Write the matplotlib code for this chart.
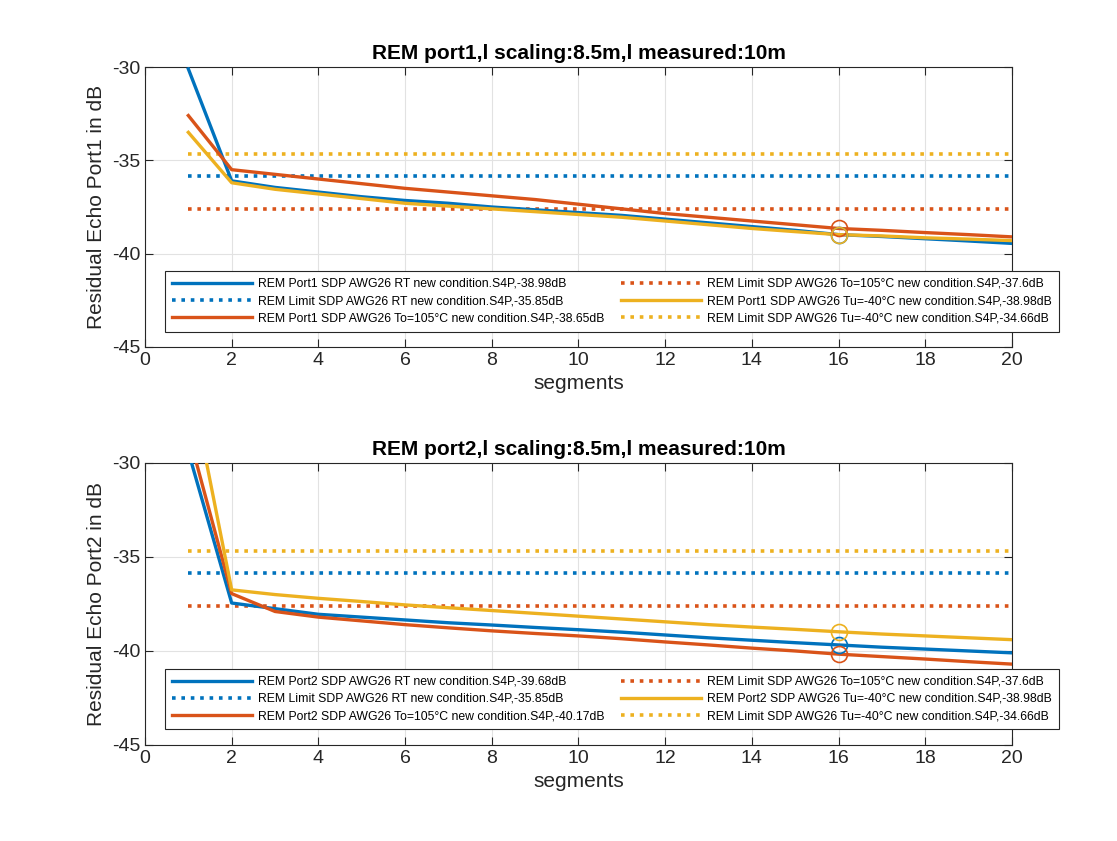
import numpy as np
import matplotlib
matplotlib.use("Agg")
import matplotlib.pyplot as plt

# =====================================
# Data
# =====================================
segments = np.arange(1, 21)

p1_rt = [-30.1, -36.1, -36.45, -36.7, -36.95, -37.15, -37.3, -37.5, -37.65, -37.8,
         -37.95, -38.15, -38.35, -38.55, -38.75, -38.98, -39.08, -39.2, -39.32, -39.45]
p1_hot = [-32.6, -35.5, -35.75, -36.0, -36.25, -36.5, -36.7, -36.9, -37.1, -37.35,
          -37.6, -37.85, -38.05, -38.25, -38.45, -38.65, -38.75, -38.87, -38.98, -39.1]
p1_cold = [-33.5, -36.2, -36.55, -36.8, -37.05, -37.3, -37.45, -37.6, -37.75, -37.9,
           -38.05, -38.25, -38.45, -38.65, -38.82, -38.98, -39.05, -39.15, -39.22, -39.3]

p2_rt = [-29.4, -37.45, -37.75, -38.05, -38.2, -38.35, -38.5, -38.62, -38.75, -38.87,
         -39.0, -39.15, -39.3, -39.43, -39.56, -39.68, -39.8, -39.9, -40.0, -40.1]
p2_hot = [-28.4, -36.95, -37.9, -38.2, -38.4, -38.6, -38.77, -38.93, -39.07, -39.2,
          -39.35, -39.52, -39.68, -39.85, -40.0, -40.17, -40.3, -40.43, -40.57, -40.7]
p2_cold = [-25.1, -36.75, -37.0, -37.2, -37.37, -37.55, -37.7, -37.85, -38.0, -38.15,
           -38.3, -38.45, -38.6, -38.73, -38.85, -38.98, -39.1, -39.2, -39.3, -39.4]

lim_rt = -35.85
lim_hot = -37.6
lim_cold = -34.66

lbl_top = [
    'REM Port1 SDP AWG26 RT new condition.S4P,-38.98dB',
    'REM Limit SDP AWG26 RT new condition.S4P,-35.85dB',
    'REM Port1 SDP AWG26 To=105°C new condition.S4P,-38.65dB',
    'REM Limit SDP AWG26 To=105°C new condition.S4P,-37.6dB',
    'REM Port1 SDP AWG26 Tu=-40°C new condition.S4P,-38.98dB',
    'REM Limit SDP AWG26 Tu=-40°C new condition.S4P,-34.66dB',
]
lbl_bot = [
    'REM Port2 SDP AWG26 RT new condition.S4P,-39.68dB',
    'REM Limit SDP AWG26 RT new condition.S4P,-35.85dB',
    'REM Port2 SDP AWG26 To=105°C new condition.S4P,-40.17dB',
    'REM Limit SDP AWG26 To=105°C new condition.S4P,-37.6dB',
    'REM Port2 SDP AWG26 Tu=-40°C new condition.S4P,-38.98dB',
    'REM Limit SDP AWG26 Tu=-40°C new condition.S4P,-34.66dB',
]

C_BLUE = '#0072BD'
C_RED = '#D95319'
C_YEL = '#EDB120'
AX_COL = '#262626'

plt.rcParams['font.family'] = ['Liberation Sans', 'DejaVu Sans']
plt.rcParams['axes.unicode_minus'] = False

fig = plt.figure(figsize=(11.17, 8.41), dpi=100)
ax_top = fig.add_axes([0.1298, 0.5874, 0.7762, 0.3329])
ax_bot = fig.add_axes([0.1298, 0.1142, 0.7762, 0.3353])


def draw(ax, rt, hot, cold, port, labels, title, leg_y):
    x1 = segments[0]
    x2 = segments[-1]
    dots = (0, (1, 1.6))
    h = []
    h += ax.plot(segments, rt, color=C_BLUE, lw=2.4, label=labels[0], zorder=3)
    h += ax.plot([x1, x2], [lim_rt, lim_rt], color=C_BLUE, lw=2.6, ls=dots, label=labels[1])
    h += ax.plot(segments, hot, color=C_RED, lw=2.4, label=labels[2], zorder=3)
    h += ax.plot([x1, x2], [lim_hot, lim_hot], color=C_RED, lw=2.6, ls=dots, label=labels[3])
    h += ax.plot(segments, cold, color=C_YEL, lw=2.4, label=labels[4], zorder=3)
    h += ax.plot([x1, x2], [lim_cold, lim_cold], color=C_YEL, lw=2.6, ls=dots, label=labels[5])
    # circles at segment 16
    i16 = list(segments).index(16)
    for s, c in ((rt, C_BLUE), (hot, C_RED), (cold, C_YEL)):
        ax.plot(16, s[i16], 'o', ms=11.5, mfc='none', mec=c, mew=1.2, zorder=4)

    ax.set_xlim(0, 20)
    ax.set_ylim(-45, -30)
    ax.set_xticks(range(0, 21, 2))
    ax.set_yticks([-45, -40, -35, -30])
    ax.grid(True, color='#e2e2e2', lw=0.8)
    ax.set_axisbelow(True)
    ax.tick_params(direction='in', top=True, right=True, labelsize=14, colors=AX_COL, length=6)
    for sp in ax.spines.values():
        sp.set_color(AX_COL)
        sp.set_linewidth(0.8)
    ax.set_title(title, fontsize=15, fontweight='bold', color='black', pad=6)
    ax.set_xlabel('segments', fontsize=15, color=AX_COL)
    ax.set_ylabel('Residual Echo Port%d in dB' % port, fontsize=15, color=AX_COL)

    leg = ax.legend(handles=h, ncol=2, loc='lower left',
                    bbox_to_anchor=(0.023, leg_y), fontsize=8.8,
                    handlelength=6.5, handletextpad=0.5, frameon=True, fancybox=False,
                    edgecolor=AX_COL, framealpha=1, borderaxespad=0,
                    borderpad=0.6, labelspacing=0.42, columnspacing=1.4)
    leg.get_frame().set_linewidth(0.8)


draw(ax_top, p1_rt, p1_hot, p1_cold, 1, lbl_top,
     'REM port1,l scaling:8.5m,l measured:10m', 0.055)
draw(ax_bot, p2_rt, p2_hot, p2_cold, 2, lbl_bot,
     'REM port2,l scaling:8.5m,l measured:10m', 0.055)

fig.savefig('out.png', dpi=100, facecolor='white')
